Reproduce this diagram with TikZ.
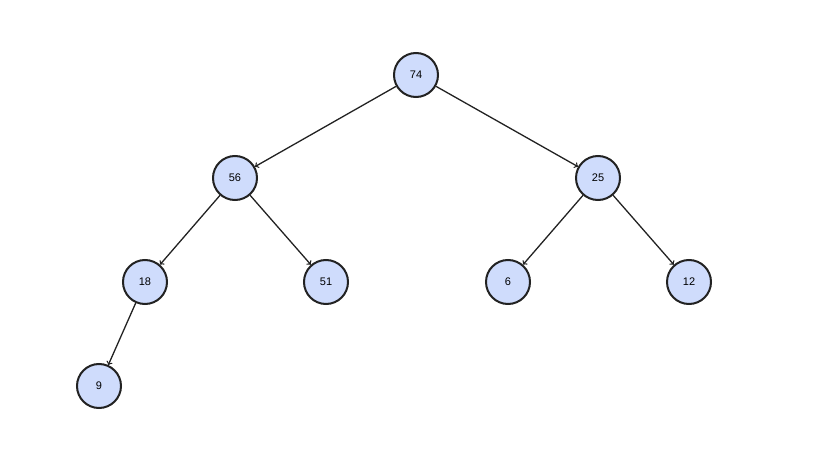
\documentclass[tikz,border=0pt]{standalone}
\usepackage{fontspec}
\setmainfont{Liberation Sans}
\definecolor{nfill}{HTML}{CFDCFC}
\definecolor{nline}{HTML}{222222}
\begin{document}
\begin{tikzpicture}[x=1pt,y=-1pt,
  nd/.style={circle,draw=nline,line width=2pt,fill=nfill,minimum size=44pt,inner sep=0pt,font=\fontsize{11}{13}\selectfont},
  ed/.style={->,>=to,draw=nline,line width=1.3pt}]
\useasboundingbox (0,0) rectangle (815,452);
\node[nd] (a) at (416,75) {74};
\node[nd] (b) at (235,178) {56};
\node[nd] (c) at (598,178) {25};
\node[nd] (d) at (145,282) {18};
\node[nd] (e) at (326,282) {51};
\node[nd] (f) at (508,282) {6};
\node[nd] (g) at (689,282) {12};
\node[nd] (h) at (99,386) {9};
\draw[ed] (a) -- (b);
\draw[ed] (a) -- (c);
\draw[ed] (b) -- (d);
\draw[ed] (b) -- (e);
\draw[ed] (c) -- (f);
\draw[ed] (c) -- (g);
\draw[ed] (d) -- (h);
\end{tikzpicture}
\end{document}
